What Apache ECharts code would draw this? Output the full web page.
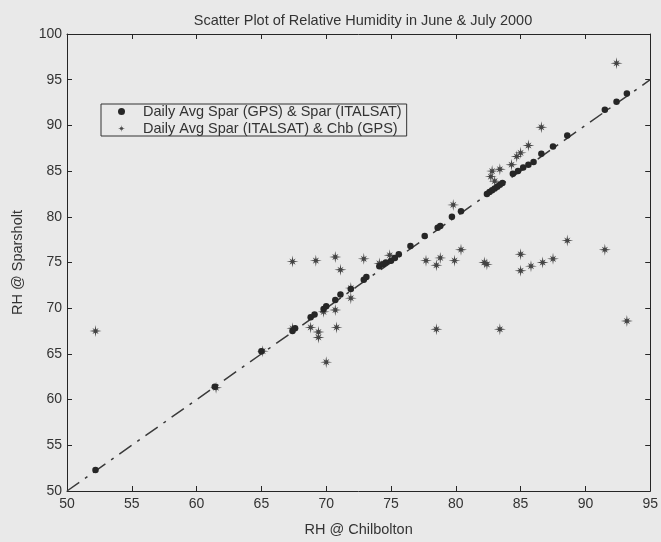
<!DOCTYPE html>
<html>
<head>
<meta charset="utf-8">
<script src="https://cdn.jsdelivr.net/npm/echarts@6/dist/echarts.min.js"></script>
<style>
  html, body { margin: 0; padding: 0; background: #e9e9e9; }
  #chart { width: 661px; height: 542px; }
</style>
</head>
<body>
<div id="chart"></div>
<script>
// RH at Chilbolton (x) vs RH at Sparsholt (y), daily averages, June & July 2000
const gpsItalsatX = [52.2, 61.4, 65.0, 67.4, 67.6, 68.8, 69.1, 69.8, 70.0, 70.7, 71.1, 71.9, 72.9, 73.1,
  74.1, 74.4, 74.6, 75.0, 75.3, 75.6, 76.5, 77.6, 78.6, 78.8, 79.7, 80.4, 82.4, 82.6, 82.8, 83.0,
  83.2, 83.4, 83.6, 84.4, 84.8, 85.2, 85.6, 86.0, 86.6, 87.5, 88.6, 91.5, 92.4, 93.2];
const gpsItalsatY = [52.3, 61.4, 65.3, 67.5, 67.8, 69.0, 69.3, 69.9, 70.2, 70.9, 71.5, 72.1, 73.1, 73.4,
  74.6, 74.8, 75.0, 75.2, 75.5, 75.9, 76.8, 77.9, 78.8, 79.0, 80.0, 80.6, 82.5, 82.7, 82.9, 83.1,
  83.3, 83.5, 83.7, 84.7, 85.0, 85.4, 85.7, 86.0, 86.9, 87.7, 88.9, 91.7, 92.6, 93.5];

const italsatChbX = [52.2, 61.5, 65.1, 67.4, 67.4, 68.8, 69.2, 69.4, 69.4, 69.8, 70.0, 70.7, 70.7, 70.8,
  71.1, 71.9, 71.9, 72.9, 74.1, 74.9, 77.7, 78.5, 78.5, 78.8, 79.8, 79.9, 80.4, 82.2, 82.4, 82.7,
  82.8, 83.0, 83.4, 83.4, 84.3, 84.7, 85.0, 85.6, 85.0, 85.0, 85.8, 86.6, 86.7, 87.5, 88.6, 91.5,
  92.4, 93.2];
const italsatChbY = [67.5, 61.3, 65.3, 67.8, 75.1, 67.9, 75.2, 67.4, 66.8, 69.6, 64.1, 75.6, 69.8, 67.9,
  74.2, 71.1, 72.2, 75.4, 74.9, 75.8, 75.2, 74.7, 67.7, 75.5, 81.3, 75.2, 76.4, 75.0, 74.8, 84.4,
  85.0, 83.9, 85.2, 67.7, 85.7, 86.6, 87.0, 87.8, 75.9, 74.1, 74.6, 89.8, 75.0, 75.4, 77.4, 76.4,
  96.8, 68.6];

// reference line y = x
const refLineX = [50, 95];
const refLineY = [50, 95];

const xTicks = { min: 50, max: 95, step: 5 };
const yTicks = { min: 50, max: 100, step: 5 };

const seriesNames = ['Daily Avg Spar (GPS) & Spar (ITALSAT)', 'Daily Avg Spar (ITALSAT) & Chb (GPS)'];
const titleText = 'Scatter Plot of Relative Humidity in June & July 2000';
const xName = 'RH @ Chilbolton';
const yName = 'RH @ Sparsholt';

const zip = (xs, ys) => xs.map((x, i) => [x, ys[i]]);

// eight-armed asterisk marker
function asteriskPath() {
  const pts = [];
  const n = 8;
  for (let i = 0; i < n * 2; i++) {
    const a = (Math.PI * i) / n - Math.PI / 2;
    let r;
    if (i % 2 === 1) r = 1.5;
    else r = (i / 2) % 2 === 0 ? 5 : 3.6;
    pts.push((r * Math.cos(a)).toFixed(3) + ',' + (r * Math.sin(a)).toFixed(3));
  }
  return 'path://M' + pts.join(' L') + ' Z';
}
const starSymbol = asteriskPath();

const ink = '#262626';
const starInk = '#444';
const family = '"Liberation Sans", Arial, sans-serif';
const tickFont = { fontFamily: family, fontSize: 14, color: '#333' };

const chart = echarts.init(document.getElementById('chart'), null, { renderer: 'canvas' });

const axisCommon = {
  type: 'value',
  splitLine: { show: false },
  axisLine: { show: true, onZero: false, lineStyle: { color: ink, width: 1 } },
  axisTick: { show: true, inside: true, length: 5, lineStyle: { color: ink, width: 1 } }
};

chart.setOption({
  backgroundColor: '#e9e9e9',
  animation: false,
  title: {
    text: titleText,
    left: 358,
    textAlign: 'center',
    top: 8,
    textStyle: { fontFamily: family, fontSize: 14.5, fontWeight: 'normal', color: '#333' }
  },
  legend: {
    orient: 'vertical',
    left: 101,
    top: 104,
    padding: [0, 5, 0, 17],
    itemGap: 2,
    itemWidth: 7,
    itemHeight: 7,
    borderColor: '#333',
    borderWidth: 1,
    backgroundColor: '#e9e9e9',
    textStyle: { fontFamily: family, fontSize: 14.5, color: '#333', padding: [0, 0, 0, 13], lineHeight: 15 },
    data: [
      { name: seriesNames[0], icon: 'circle', itemStyle: { color: ink } },
      { name: seriesNames[1], icon: starSymbol, itemStyle: { color: starInk } }
    ]
  },
  grid: { left: 67, right: 6, top: 34, bottom: 46, containLabel: false },
  xAxis: [
    Object.assign({}, axisCommon, {
      min: xTicks.min, max: xTicks.max, interval: xTicks.step,
      name: xName, nameLocation: 'middle', nameGap: 31,
      nameTextStyle: { fontFamily: family, fontSize: 14.5, color: '#333' },
      axisLabel: Object.assign({ margin: 6 }, tickFont)
    }),
    Object.assign({}, axisCommon, {
      position: 'top', min: xTicks.min, max: xTicks.max, interval: xTicks.step,
      axisLabel: { show: false }
    })
  ],
  yAxis: [
    Object.assign({}, axisCommon, {
      min: yTicks.min, max: yTicks.max, interval: yTicks.step,
      name: yName, nameLocation: 'middle', nameGap: 42, nameRotate: 90,
      nameTextStyle: { fontFamily: family, fontSize: 14.5, color: '#333' },
      axisLabel: Object.assign({ margin: 5 }, tickFont)
    }),
    Object.assign({}, axisCommon, {
      position: 'right', min: yTicks.min, max: yTicks.max, interval: yTicks.step,
      axisLabel: { show: false }
    })
  ],
  series: [
    {
      type: 'line',
      name: 'y = x',
      data: zip(refLineX, refLineY),
      showSymbol: false,
      silent: true,
      lineStyle: { color: '#3a3a3a', width: 1.5, type: [15, 7, 3, 7] },
      z: 1
    },
    {
      type: 'scatter',
      name: seriesNames[0],
      data: zip(gpsItalsatX, gpsItalsatY),
      symbol: 'circle',
      symbolSize: 6.5,
      itemStyle: { color: ink, opacity: 1 },
      z: 3
    },
    {
      type: 'scatter',
      name: seriesNames[1],
      data: zip(italsatChbX, italsatChbY),
      symbol: starSymbol,
      symbolSize: 12,
      itemStyle: { color: starInk, opacity: 1 },
      z: 2
    }
  ]
});
</script>
</body>
</html>
